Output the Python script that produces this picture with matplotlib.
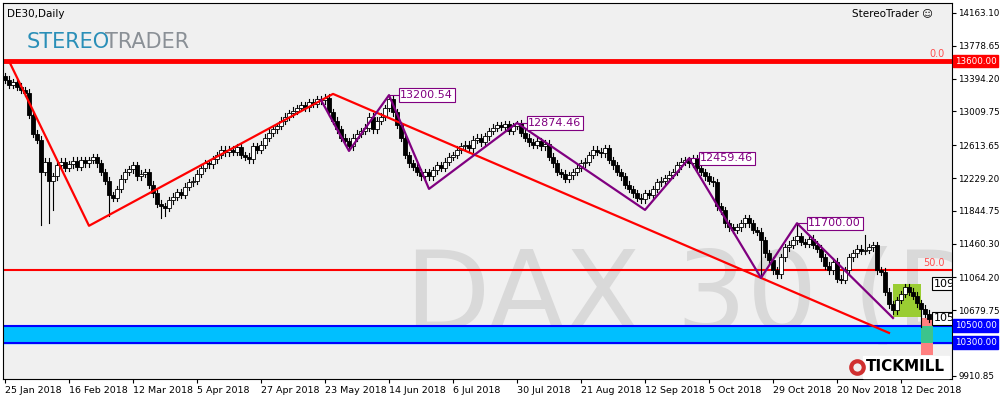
import matplotlib.pyplot as plt
from matplotlib.patches import Rectangle

# daily closes DE30, 25 Jan 2018 .. 19 Dec 2018
closes = [
    13380, 13320, 13350, 13300, 13260, 13230,
    12970, 12750, 12680,
    12300, 12420, 12200, 12250,
    12380, 12420, 12350, 12390, 12430, 12360, 12440, 12400,
    12440, 12470, 12400, 12300, 12200, 12030, 12000,
    12100, 12220, 12300, 12330, 12380, 12250, 12280, 12300,
    12150, 12050, 11930, 11900, 11880,
    11970, 12010, 12060, 12030, 12130,
    12180, 12200, 12280, 12350, 12400, 12390, 12450, 12500, 12560, 12530,
    12560, 12540, 12590, 12500, 12480, 12450, 12600, 12560,
    12620, 12700, 12760, 12800, 12840, 12900, 12950, 12990, 13020, 13050, 13080, 13060,
    13120, 13100, 13150, 13140, 13170,
    13000, 12900, 12800, 12700, 12660, 12600,
    12700, 12750, 12780, 12820, 12950, 12800, 12900, 12950, 13050,
    13150, 13000, 12850, 12700, 12500, 12400, 12360,
    12300, 12250, 12300, 12250, 12320, 12380, 12350, 12420,
    12480, 12500, 12560, 12600, 12620, 12580, 12680, 12700, 12650, 12720,
    12780, 12820, 12850, 12830, 12860, 12780, 12840, 12870,
    12760, 12700, 12650, 12620, 12660, 12600, 12630,
    12480, 12400, 12300, 12280, 12220, 12260, 12300,
    12350, 12400, 12420, 12500, 12560, 12540, 12520, 12580,
    12440, 12380, 12300, 12250, 12150, 12100, 12050, 12000,
    11980, 12050, 12030, 12100, 12180, 12200, 12230, 12270,
    12300, 12380, 12420, 12440, 12400, 12460,
    12350, 12300, 12250, 12200, 12180,
    11900, 11850, 11700, 11650, 11620, 11650,
    11700, 11760, 11700, 11620, 11600,
    11500, 11350, 11270, 11150, 11100,
    11300, 11420, 11450, 11500,
    11550, 11480, 11460, 11520, 11450, 11400,
    11300, 11200, 11150, 11250, 11050, 11040,
    11150, 11300, 11350, 11400, 11380, 11390,
    11420, 11440, 11150, 11130,
    10900, 10750, 10680,
    10800, 10870, 10950, 10900, 10850, 10760,
    10700, 10640, 10580,
]
first_open = 13420
long_lows = {9: 11680, 11: 11700, 12: 11850, 26: 11780, 39: 11760, 40: 11780, 189: 11060, 229: 10480}
long_highs = {96: 13200, 128: 12900, 171: 12480, 198: 11700, 215: 11560}

date_labels = ["25 Jan 2018", "16 Feb 2018", "12 Mar 2018", "5 Apr 2018", "27 Apr 2018",
               "23 May 2018", "14 Jun 2018", "6 Jul 2018", "30 Jul 2018", "21 Aug 2018",
               "12 Sep 2018", "5 Oct 2018", "29 Oct 2018", "20 Nov 2018", "12 Dec 2018"]
price_ticks = [14163.10, 13778.65, 13394.20, 13009.75, 12613.65, 12229.20, 11844.75,
               11460.30, 11064.20, 10679.75, 9910.85]

resistance = 13600.00
fib50 = 11150
zone_top, zone_bottom = 10500.00, 10300.00
red_trend = [(1, 13600), (21, 11670), (82, 13215), (221, 10415)]
zigzag = [(79, 13144), (86, 12547), (96, 13200.54), (106, 12102), (128, 12874.46),
          (160, 11856), (171, 12459.46), (189, 11060), (198, 11700.00), (222, 10590)]
zz_labels = [(96, 13200.54), (128, 12874.46), (171, 12459.46), (198, 11700.00)]

fig = plt.figure(figsize=(10, 4), dpi=100, facecolor="white")
ax = fig.add_axes([0.003, 0.0525, 0.949, 0.94])
ax.set_facecolor("#f0f0f0")
ymin, ymax = 9875, 14280
ax.set_xlim(-0.5, 236.75)
ax.set_ylim(ymin, ymax)

ax.text(100, 10450, "DAX 30 (D1)", fontsize=80, color="#d9d9d9", zorder=0, clip_on=True)

# candles
prev = first_open
for i, c in enumerate(closes):
    o = prev
    hi = long_highs.get(i, max(o, c) + 40)
    lo = long_lows.get(i, min(o, c) - 40)
    ax.plot([i, i], [lo, hi], color="black", lw=0.8, zorder=3)
    col = "white" if c >= o else "black"
    ax.add_patch(Rectangle((i - 0.38, min(o, c)), 0.76, max(abs(c - o), 10),
                           facecolor=col, edgecolor="black", lw=0.6, zorder=4))
    prev = c

ax.axhline(resistance, color="red", lw=3.5, zorder=2)
ax.axhline(fib50, color="red", lw=1.5, zorder=2)
ax.axhspan(zone_bottom, zone_top, color="#00bfff", zorder=1)
ax.axhline(zone_top, color="blue", lw=1.5, zorder=2)
ax.axhline(zone_bottom, color="blue", lw=1.5, zorder=2)
ax.text(235, resistance + 20, "0.0", color="#ff5050", fontsize=7, ha="right", va="bottom")
ax.text(235, fib50 + 20, "50.0", color="#ff5050", fontsize=7, ha="right", va="bottom")

ax.plot([p[0] for p in red_trend], [p[1] for p in red_trend], color="red", lw=1.6, zorder=5)
ax.plot([p[0] for p in zigzag], [p[1] for p in zigzag], color="purple", lw=1.6, zorder=5)
for x, v in zz_labels:
    ax.plot([x, x + 2.5], [v, v], color="purple", lw=0.8, zorder=5)
    ax.text(x + 2.8, v, f"{v:.2f}", color="purple", fontsize=8, va="center", zorder=6,
            bbox=dict(boxstyle="square,pad=0.15", fc="white", ec="purple", lw=0.8))

# trade boxes
ax.add_patch(Rectangle((222, 10600), 7, 390, facecolor="#9acd32", zorder=2))
ax.add_patch(Rectangle((229, 10500), 3, 84, facecolor="#ff8080", zorder=2))
ax.add_patch(Rectangle((229, 10300), 3, 200, facecolor="#3cc48c", zorder=2))
ax.add_patch(Rectangle((229, 10160), 3, 140, facecolor="#ff8080", zorder=2))
for v, t in [(10990, "10986"), (10584, "10584")]:
    ax.text(232.2, v, t, fontsize=8, va="center", zorder=7, clip_on=True,
            bbox=dict(boxstyle="square,pad=0.15", fc="white", ec="black", lw=0.8))

# axes styling
ax.yaxis.tick_right()
ax.set_yticks(price_ticks)
ax.set_yticklabels([f"{t:.2f}" for t in price_ticks])
ax.set_xticks(range(0, 16 * len(date_labels), 16))
ax.set_xticklabels(date_labels, ha="left")
ax.tick_params(axis="x", labelsize=6.8, length=3, pad=2)
ax.tick_params(axis="y", labelsize=6.3, length=3, pad=1.5)
for s in ax.spines.values():
    s.set_linewidth(0.8)

for v, t, c in [(resistance, "13600.00", "red"), (zone_top, "10500.00", "blue"),
                (zone_bottom, "10300.00", "blue")]:
    ax.text(1.003, (v - ymin) / (ymax - ymin), t, transform=ax.transAxes, color="white",
            fontsize=6.3, va="center", ha="left",
            bbox=dict(boxstyle="square,pad=0.2", fc=c, ec=c))

ax.text(0.004, 0.985, "DE30,Daily", transform=ax.transAxes, fontsize=7.5, va="top")
ax.text(0.98, 0.985, "StereoTrader \u263a", transform=ax.transAxes, fontsize=7.5,
        va="top", ha="right")
ax.text(0.025, 0.895, "STEREO", transform=ax.transAxes, fontsize=15, color="#2a8fb8",
        va="center")
ax.text(0.107, 0.895, "TRADER", transform=ax.transAxes, fontsize=15, color="#8a9096",
        va="center")
ax.text(0.993, 0.012, "TICKMILL", transform=ax.transAxes, fontsize=11, fontweight="bold",
        ha="right", va="bottom", zorder=8,
        bbox=dict(boxstyle="square,pad=0.25", fc="white", ec="white"))
ax.plot([213], [10010], marker="o", ms=9, mfc="none", mec="#d03030", mew=3, zorder=9)

fig.savefig("out.png", dpi=100)
